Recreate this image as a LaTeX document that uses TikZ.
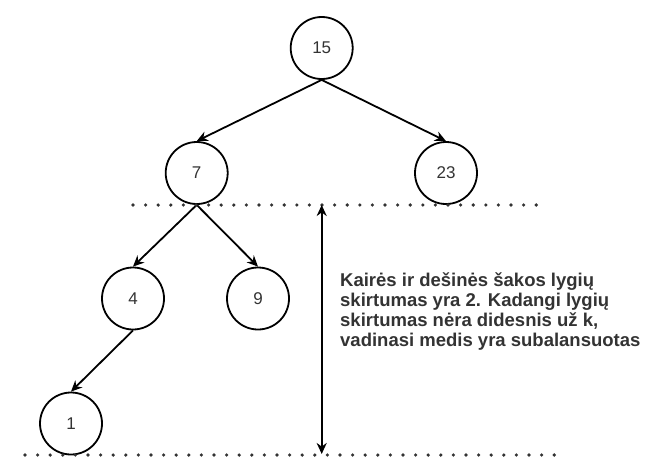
\documentclass[tikz,border=0pt]{standalone}
\usepackage{fontspec}
\setmainfont{Liberation Sans}
\usetikzlibrary{arrows.meta}
\definecolor{txt}{HTML}{333333}
\begin{document}
\begin{tikzpicture}[x=1pt,y=-1pt,
  tnode/.style={circle,draw=black,line width=1.8pt,minimum size=62pt,inner sep=0pt,font=\fontsize{17}{17}\selectfont,text=txt},
  edge/.style={line width=1.8pt,black,-{Stealth[length=11pt,width=10pt]}},
  dotline/.style={line width=3.6pt,black!80,line cap=round,dash pattern=on 0pt off 12.6pt}]
\useasboundingbox (0,0) rectangle (655,466);
\node[tnode] (n15) at (321.7,48) {15};
\node[tnode] (n7) at (196.7,173) {7};
\node[tnode] (n23) at (446,173) {23};
\node[tnode] (n4) at (133,298.5) {4};
\node[tnode] (n9) at (258,298.5) {9};
\node[tnode] (n1) at (71,423.5) {1};
\draw[edge] (n15.south) -- (n7.north);
\draw[edge] (n15.south) -- (n23.north);
\draw[edge] (n7.south) -- (n4.north);
\draw[edge] (n7.south) -- (n9.north);
\draw[edge] (n4.south) -- (n1.north);
\coordinate (t1) at (133,205);
\coordinate (t2) at (540,205);
\coordinate (b1) at (25,455);
\coordinate (b2) at (555,455);
\draw[dotline] (t1) -- (t2);
\draw[dotline] (b1) -- (b2);
\coordinate (aT) at (321.7,205);
\coordinate (aB) at (321.7,454);
\draw[line width=1.8pt,black,{Stealth[length=11pt,width=10pt]}-{Stealth[length=11pt,width=10pt]}] (aT) -- (aB);
\node[anchor=north west,inner sep=0pt,align=left,text=txt,font=\bfseries\fontsize{18.5}{20}\selectfont] (txt) at (340,272) {Kairės ir dešinės šakos lygių\\skirtumas yra 2. Kadangi lygių\\skirtumas nėra didesnis už k,\\vadinasi medis yra subalansuotas};
\end{tikzpicture}
\end{document}
